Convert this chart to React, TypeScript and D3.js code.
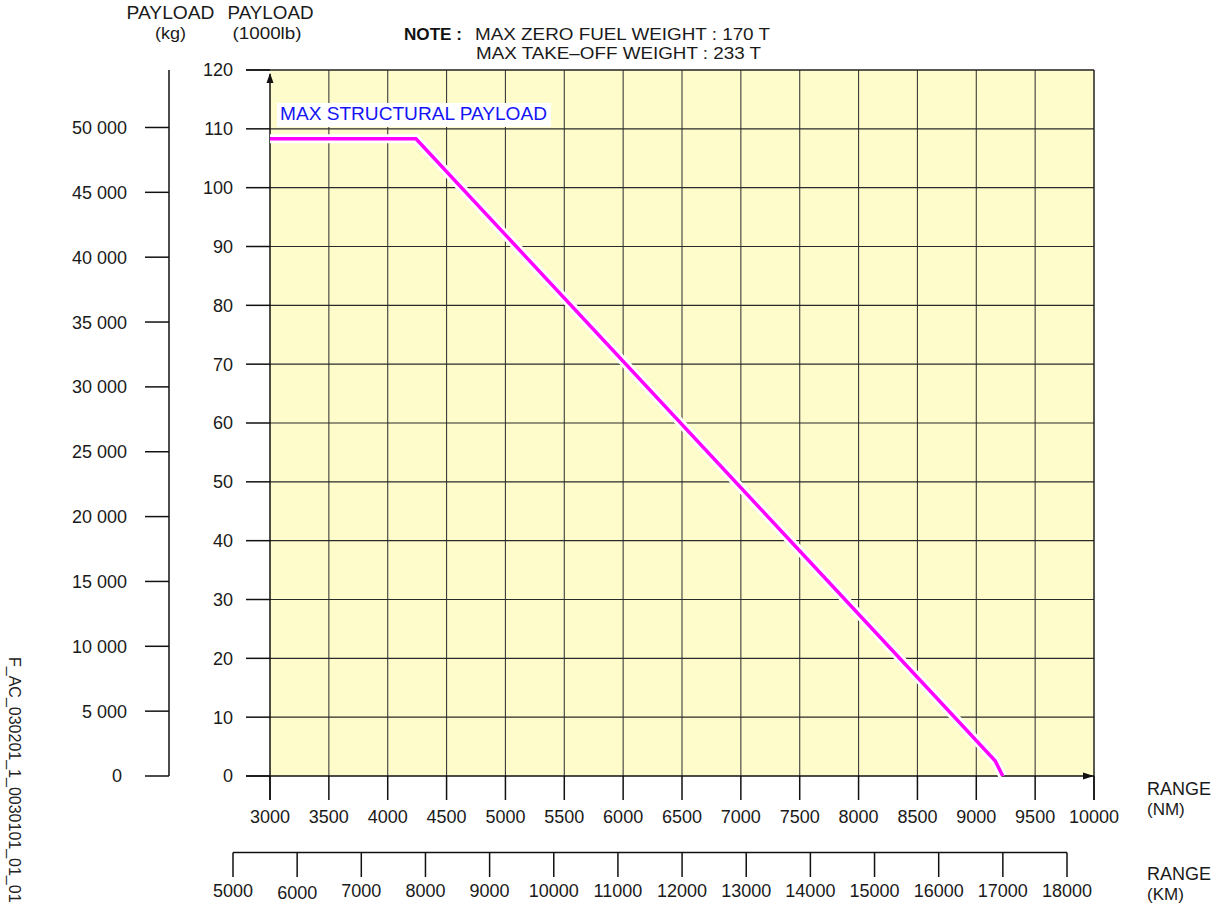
import React from "react";
import * as d3 from "d3";

// ---- data ----
const rangeNM = [3000, 4240, 9160, 9225];
const payloadKlb = [108.3, 108.3, 2.6, 0];

const nmTicks = [3000, 3500, 4000, 4500, 5000, 5500, 6000, 6500, 7000, 7500, 8000, 8500, 9000, 9500, 10000];
const kmTicks = [5000, 6000, 7000, 8000, 9000, 10000, 11000, 12000, 13000, 14000, 15000, 16000, 17000, 18000];
const klbTicks = [0, 10, 20, 30, 40, 50, 60, 70, 80, 90, 100, 110, 120];
const kgTicks = [0, 5000, 10000, 15000, 20000, 25000, 30000, 35000, 40000, 45000, 50000];
const kgLabels = ["0", "5 000", "10 000", "15 000", "20 000", "25 000", "30 000", "35 000", "40 000", "45 000", "50 000"];

const LB_PER_KG = 2.20462;

const TEXT = "#1a1a1a";
const FONT = "'Liberation Sans', Arial, Helvetica, sans-serif";

export default function App() {
  const x = d3.scaleLinear().domain([3000, 10000]).range([270, 1094]);
  const y = d3.scaleLinear().domain([0, 120]).range([776, 70]);
  const yKg = d3.scaleLinear().domain([0, (120 / LB_PER_KG) * 1000]).range([776, 70]);
  const xKm = d3.scaleLinear().domain([5000, 18000]).range([233, 1067]);

  const pts: [number, number][] = rangeNM.map((r, i) => [r, payloadKlb[i]]);
  const line = d3
    .line<[number, number]>()
    .x((d) => x(d[0]))
    .y((d) => y(d[1]));
  const path = line(pts) || "";

  const x0 = x(3000);
  const x1 = x(10000);
  const y0 = y(0);
  const yTop = y(120);

  return (
    <svg
      width={1225}
      height={908}
      style={{ position: "absolute", left: 0, top: 0, display: "block", background: "#fff" }}
      fontFamily={FONT}
    >
      {/* plot background */}
      <rect x={x0} y={yTop} width={x1 - x0} height={y0 - yTop} fill="#fffccb" />

      {/* grid */}
      {nmTicks.slice(1, -1).map((t) => (
        <line key={"gv" + t} x1={x(t)} x2={x(t)} y1={yTop} y2={y0} stroke="#3c3c3c" strokeWidth={1.1} />
      ))}
      {klbTicks.slice(1, -1).map((t) => (
        <line key={"gh" + t} x1={x0} x2={x1} y1={y(t)} y2={y(t)} stroke="#2a2a2a" strokeWidth={1.1} />
      ))}
      {/* top and right border */}
      <line x1={x0 - 24} x2={x1} y1={yTop} y2={yTop} stroke="#222" strokeWidth={1.5} />
      <line x1={x1} x2={x1} y1={yTop} y2={y0 + 24} stroke="#222" strokeWidth={1.5} />

      {/* klb axis */}
      <line x1={x0} x2={x0} y1={y0 + 24} y2={yTop + 4} stroke="#111" strokeWidth={1.5} />
      <path d={`M${x0},${yTop + 3} L${x0 - 3.5},${yTop + 13} L${x0 + 3.5},${yTop + 13} Z`} fill="#111" />
      {klbTicks.map((t) => (
        <g key={"yk" + t}>
          <line x1={x0 - 24} x2={x0} y1={y(t)} y2={y(t)} stroke="#111" strokeWidth={1.5} />
          <text x={233} y={y(t)} dy="0.36em" textAnchor="end" fontSize={18} fill={TEXT}>
            {t}
          </text>
        </g>
      ))}

      {/* x (NM) axis */}
      <line x1={x0 - 24} x2={x1} y1={y0} y2={y0} stroke="#111" strokeWidth={1.5} />
      <path d={`M${x1},${y0} L${x1 - 11},${y0 - 3.5} L${x1 - 11},${y0 + 3.5} Z`} fill="#111" />
      {nmTicks.map((t) => (
        <g key={"xn" + t}>
          <line x1={x(t)} x2={x(t)} y1={y0} y2={y0 + 24} stroke="#111" strokeWidth={1.5} />
          <text x={x(t)} y={823} textAnchor="middle" fontSize={18} fill={TEXT}>
            {t}
          </text>
        </g>
      ))}

      {/* kg axis */}
      <line x1={169} x2={169} y1={yTop} y2={y0} stroke="#111" strokeWidth={1.5} />
      {kgTicks.map((t, i) => (
        <g key={"kg" + t}>
          <line x1={145} x2={169} y1={yKg(t)} y2={yKg(t)} stroke="#111" strokeWidth={1.5} />
          <text x={t === 0 ? 122 : 127} y={yKg(t)} dy="0.36em" textAnchor="end" fontSize={18} fill={TEXT}>
            {kgLabels[i]}
          </text>
        </g>
      ))}

      {/* km axis */}
      <line x1={xKm(5000)} x2={xKm(18000)} y1={852.5} y2={852.5} stroke="#111" strokeWidth={1.5} />
      {kmTicks.map((t) => (
        <g key={"km" + t}>
          <line x1={xKm(t)} x2={xKm(t)} y1={852.5} y2={877} stroke="#111" strokeWidth={1.5} />
          <text x={xKm(t)} y={t === 6000 ? 899 : 897} textAnchor="middle" fontSize={18} fill={TEXT}>
            {t}
          </text>
        </g>
      ))}

      {/* payload curve */}
      <path d={path} fill="none" stroke="#ffffff" strokeWidth={9} strokeLinejoin="miter" />
      <path d={path} fill="none" stroke="#ff00ff" strokeWidth={3.5} strokeLinejoin="miter" />

      {/* curve label */}
      <rect x={277} y={103} width={274} height={24} fill="#ffffff" />
      <text x={280} y={120} fontSize={18.5} fill="#1414f5" textLength={267} lengthAdjust="spacingAndGlyphs">
        MAX STRUCTURAL PAYLOAD
      </text>

      {/* headers */}
      <text x={170.5} y={19} textAnchor="middle" fontSize={17.5} fill={TEXT} textLength={88} lengthAdjust="spacingAndGlyphs">PAYLOAD</text>
      <text x={170.5} y={38.5} textAnchor="middle" fontSize={17} fill={TEXT} textLength={31} lengthAdjust="spacingAndGlyphs">(kg)</text>
      <text x={270.5} y={19} textAnchor="middle" fontSize={17.5} fill={TEXT} textLength={86} lengthAdjust="spacingAndGlyphs">PAYLOAD</text>
      <text x={267} y={38.5} textAnchor="middle" fontSize={17} fill={TEXT} textLength={69} lengthAdjust="spacingAndGlyphs">(1000lb)</text>

      {/* note */}
      <text x={404} y={40} fontSize={16.5} fontWeight="bold" fill="#111" textLength={58} lengthAdjust="spacingAndGlyphs">
        NOTE :
      </text>
      <text x={475} y={40} fontSize={16} fill={TEXT} textLength={295} lengthAdjust="spacingAndGlyphs">
        MAX ZERO FUEL WEIGHT : 170 T
      </text>
      <text x={476} y={59} fontSize={16} fill={TEXT} textLength={285} lengthAdjust="spacingAndGlyphs">
        MAX TAKE–OFF WEIGHT : 233 T
      </text>

      {/* range titles */}
      <text x={1147} y={795} fontSize={18} fill={TEXT}>RANGE</text>
      <text x={1147} y={814.5} fontSize={17} fill={TEXT}>(NM)</text>
      <text x={1147} y={880} fontSize={18} fill={TEXT}>RANGE</text>
      <text x={1147} y={899.5} fontSize={17} fill={TEXT}>(KM)</text>

      {/* figure id */}
      <text transform="translate(9,657) rotate(90)" fontSize={16} fill="#222">
        F_AC_030201_1_0030101_01_01
      </text>
    </svg>
  );
}
